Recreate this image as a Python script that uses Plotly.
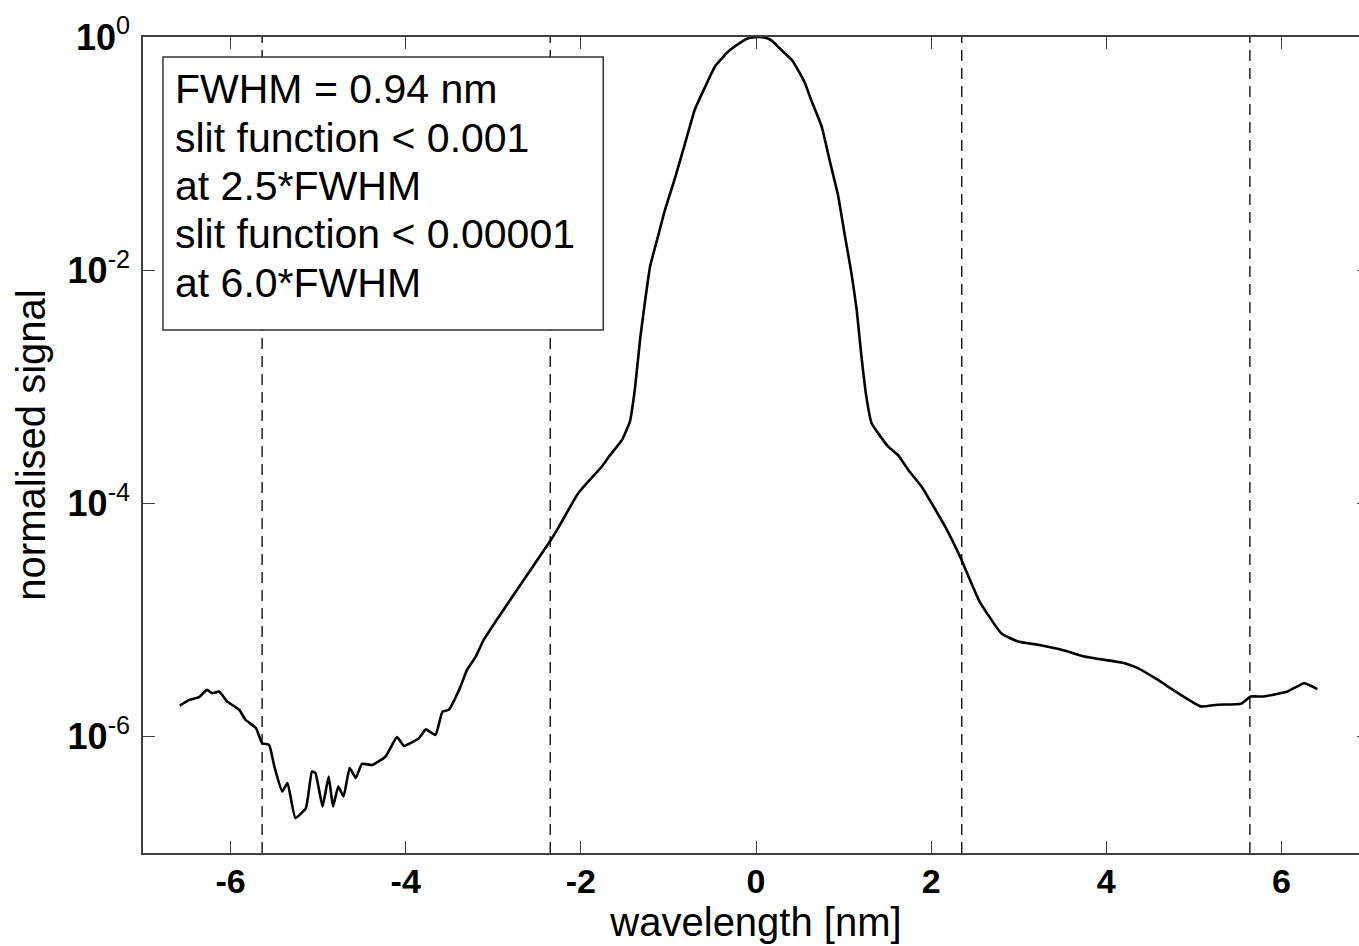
import plotly.graph_objects as go

# ---- data ----
wavelength_nm = [
    -6.58, -6.47, -6.36, -6.27, -6.21, -6.13, -6.04, -5.90, -5.83, -5.71,
    -5.64, -5.56, -5.50, -5.41, -5.35, -5.26, -5.14, -5.07, -5.03, -4.95,
    -4.88, -4.83, -4.77, -4.71, -4.64, -4.57, -4.50, -4.38, -4.23, -4.10,
    -4.02, -3.85, -3.77, -3.66, -3.58, -3.51, -3.39, -3.30, -3.20, -3.11,
    -2.90, -2.60, -2.33, -2.25, -2.03, -1.76, -1.68, -1.53, -1.44, -1.41,
    -1.38, -1.32, -1.27, -1.21, -1.11, -1.04, -0.92, -0.81, -0.70, -0.58,
    -0.47, -0.39, -0.32, -0.16, -0.09, 0.02, 0.10, 0.18, 0.25, 0.33,
    0.41, 0.48, 0.56, 0.63, 0.75, 0.84,
    0.94, 1.01, 1.09, 1.15, 1.20, 1.26, 1.32, 1.51, 1.62, 1.74,
    1.89, 2.16, 2.33, 2.55, 2.80, 2.99, 3.22, 3.52, 3.75, 4.21,
    4.36, 4.59, 4.82, 5.08, 5.27, 5.54, 5.65, 5.80, 6.07, 6.26, 6.41,
]
normalised_signal = [
    1.84e-6, 2.06e-6, 2.17e-6, 2.51e-6, 2.35e-6, 2.43e-6, 2.00e-6, 1.69e-6, 1.39e-6, 1.18e-6,
    8.75e-7, 8.47e-7, 5.52e-7, 3.37e-7, 3.98e-7, 2.00e-7, 2.43e-7, 5.01e-7, 4.84e-7, 2.51e-7,
    4.53e-7, 2.51e-7, 3.72e-7, 3.05e-7, 5.35e-7, 4.40e-7, 5.82e-7, 5.70e-7, 6.73e-7, 9.86e-7,
    8.30e-7, 9.66e-7, 1.15e-6, 1.03e-6, 1.63e-6, 1.69e-6, 2.51e-6, 3.72e-6, 4.84e-6, 6.73e-6,
    1.17e-5, 2.51e-5, 5.01e-5, 6.31e-5, 1.22e-4, 2.07e-4, 2.51e-4, 3.50e-4, 5.02e-4, 6.75e-4,
    1.00e-3, 2.69e-3, 5.20e-3, 1.07e-2, 2.07e-2, 3.28e-2, 6.34e-2, 0.1225, 0.2366, 0.375,
    0.556, 0.656, 0.748, 0.912, 0.975, 1.0, 0.99, 0.931, 0.826, 0.724,
    0.635, 0.521, 0.401, 0.288, 0.170, 0.0881,
    0.0427, 0.0207, 9.40e-3, 4.56e-3, 1.94e-3, 8.22e-4, 4.86e-4, 3.06e-4, 2.60e-4, 1.93e-4,
    1.39e-4, 6.31e-5, 3.49e-5, 1.45e-5, 7.69e-6, 6.52e-6, 6.11e-6, 5.46e-6, 4.84e-6, 4.25e-6,
    3.85e-6, 3.05e-6, 2.35e-6, 1.81e-6, 1.87e-6, 1.91e-6, 2.20e-6, 2.20e-6, 2.43e-6, 2.86e-6, 2.55e-6,
]
marker_positions_nm = [-5.64, -2.35, 2.35, 5.64]  # +/-2.5*FWHM, +/-6.0*FWHM
x_ticks = [-6, -4, -2, 0, 2, 4, 6]
y_ticks = [1, 1e-2, 1e-4, 1e-6]
y_tick_exponents = ["0", "-2", "-4", "-6"]
info_lines = [
    "FWHM = 0.94 nm",
    "slit function &lt; 0.001",
    "at 2.5*FWHM",
    "slit function &lt; 0.00001",
    "at 6.0*FWHM",
]

FONT = "Liberation Sans, Arial, Helvetica, sans-serif"
# the reference figure is cropped on the right: the axes box runs a bit past the window
W, H = 1371, 946
ML, MR, MT, MB = 143, 0, 37, 93
PW, PH = W - ML - MR, H - MT - MB


def px_x(p):
    return (p - ML) / PW


def px_y(p):
    return 1 - (p - MT) / PH


fig = go.Figure()

for xm in marker_positions_nm:
    fig.add_trace(go.Scatter(
        x=[xm, xm], y=[1e-7, 1], mode="lines",
        line=dict(color="black", width=1.3, dash="11px,7px"),
        showlegend=False, hoverinfo="skip"))

fig.add_trace(go.Scatter(
    x=wavelength_nm, y=normalised_signal, mode="lines",
    line=dict(color="black", width=2.6, shape="spline", smoothing=0.4),
    showlegend=False))

ticktext = ['10<sup><span style="font-weight:normal">%s</span></sup>' % e for e in y_tick_exponents]

axis_common = dict(
    showgrid=False, zeroline=False, showline=True, linecolor="#404040",
    linewidth=1.5, mirror="ticks", ticks="inside", ticklen=12, tickwidth=1.3,
    tickcolor="#404040",
)

fig.update_layout(
    width=W, height=H,
    margin=dict(l=ML, r=MR, t=MT, b=MB, pad=0),
    paper_bgcolor="white", plot_bgcolor="white",
    font=dict(family=FONT, color="black"),
    xaxis=dict(
        range=[-7, 7], tickvals=x_ticks, ticktext=[str(v) for v in x_ticks],
        tickfont=dict(family=FONT, size=34, color="black", weight="bold"),
        title=dict(text="wavelength [nm]", font=dict(family=FONT, size=40, color="black"), standoff=0),
        ticklabelstandoff=-3,
        **axis_common),
    yaxis=dict(
        type="log", range=[-7, 0], tickvals=y_ticks, ticktext=ticktext,
        tickfont=dict(family=FONT, size=36, color="black", weight="bold"),
        title=dict(text="normalised signal", font=dict(family=FONT, size=40, color="black"), standoff=10),
        ticklabelstandoff=4,
        **axis_common),
)

# info box
fig.add_shape(type="rect", xref="paper", yref="paper",
              x0=px_x(163), x1=px_x(604), y0=px_y(330), y1=px_y(57),
              line=dict(color="#333333", width=1.5), fillcolor="white", layer="above")

line_centers = [89, 138, 186, 234, 283]
for txt, cy in zip(info_lines, line_centers):
    fig.add_annotation(xref="paper", yref="paper", x=px_x(173), y=px_y(cy),
                       xanchor="left", yanchor="middle", text=txt, showarrow=False,
                       font=dict(family=FONT, size=41, color="black"))

fig.write_html("out.html", config={"displayModeBar": False},
               post_script="document.body.style.margin='0';document.body.style.overflow='hidden';")
